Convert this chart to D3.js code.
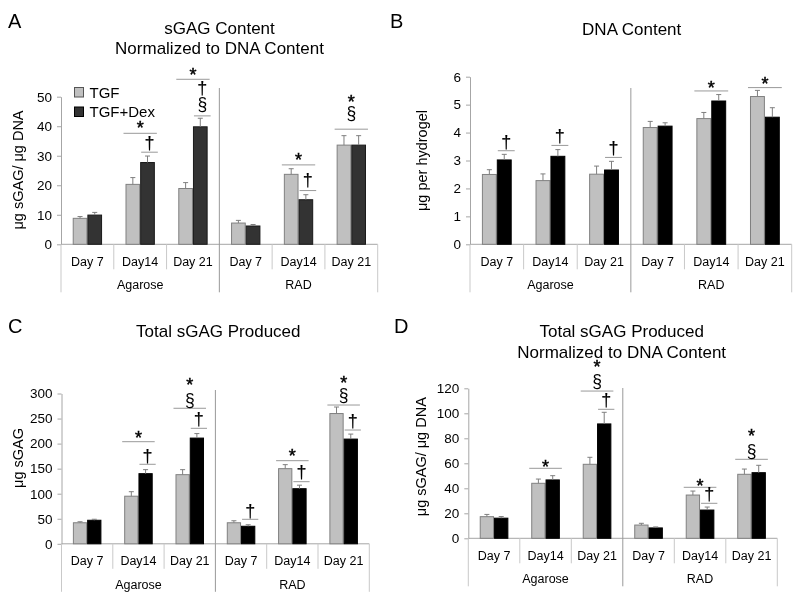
<!DOCTYPE html>
<html>
<head>
<meta charset="utf-8">
<script src="https://cdn.jsdelivr.net/npm/d3@7"></script>
<style>
  html, body { margin: 0; padding: 0; background: #fff; }
  svg { display: block; filter: grayscale(100%); }
</style>
</head>
<body>
<svg id="chart" width="800" height="604"></svg>
<script>
// ---------------- DATA ----------------
const categories = ["Day 7", "Day14", "Day 21", "Day 7", "Day14", "Day 21"];
const groups = ["Agarose", "RAD"];
const seriesNames = ["TGF", "TGF+Dex"];

// Panel A: sGAG content normalized to DNA (µg sGAG / µg DNA)
const ticksA = [0, 10, 20, 30, 40, 50];
const tgfA = [8.8, 20.3, 18.9, 7.2, 23.7, 33.6];
const dexA = [9.9, 27.7, 39.8, 6.2, 15.1, 33.6];
const tgfErrA = [0.6, 2.3, 2.0, 0.9, 1.9, 3.2];
const dexErrA = [0.9, 2.2, 2.9, 0.5, 1.7, 3.2];
const annA = [
  { cat: 1, span: "both", line: 37.6, marks: [["*", 41.0]] },
  { cat: 1, span: "dex",  line: 31.2, marks: [["†", 34.2]] },
  { cat: 2, span: "both", line: 55.9, marks: [["*", 58.9]] },
  { cat: 2, span: "dex",  line: 43.5, marks: [["†", 52.8], ["§", 47.0]] },
  { cat: 4, span: "both", line: 26.9, marks: [["*", 30.2]] },
  { cat: 4, span: "dex",  line: 18.2, marks: [["†", 21.4]] },
  { cat: 5, span: "both", line: 39.0, marks: [["*", 49.6], ["§", 44.0]] }
];

// Panel B: DNA content (µg per hydrogel)
const ticksB = [0, 1, 2, 3, 4, 5, 6];
const tgfB = [2.50, 2.28, 2.51, 4.18, 4.50, 5.29];
const dexB = [3.02, 3.15, 2.66, 4.23, 5.13, 4.55];
const tgfErrB = [0.17, 0.24, 0.29, 0.22, 0.22, 0.22];
const dexErrB = [0.20, 0.24, 0.31, 0.12, 0.23, 0.34];
const annB = [
  { cat: 0, span: "dex",  line: 3.35, marks: [["†", 3.64]] },
  { cat: 1, span: "dex",  line: 3.54, marks: [["†", 3.85]] },
  { cat: 2, span: "dex",  line: 3.11, marks: [["†", 3.41]] },
  { cat: 4, span: "both", line: 5.49, marks: [["*", 5.77]] },
  { cat: 5, span: "both", line: 5.61, marks: [["*", 5.89]] }
];

// Panel C: total sGAG produced (µg sGAG)
const ticksC = [0, 50, 100, 150, 200, 250, 300];
const tgfC = [42, 95, 138, 42, 150, 260];
const dexC = [47, 140, 211, 35, 110, 209];
const tgfErrC = [2, 9, 10, 4, 8, 13];
const dexErrC = [2, 8, 9, 3, 7, 10];
const annC = [
  { cat: 1, span: "both", line: 203.8, marks: [["*", 221.0]] },
  { cat: 1, span: "dex",  line: 158.7, marks: [["†", 174.5]] },
  { cat: 2, span: "both", line: 270.5, marks: [["*", 325.0], ["§", 284.5]] },
  { cat: 2, span: "dex",  line: 230.5, marks: [["†", 247.5]] },
  { cat: 3, span: "dex",  line: 48.9,  marks: [["†", 64.5]] },
  { cat: 4, span: "both", line: 165.9, marks: [["*", 184.0]] },
  { cat: 4, span: "dex",  line: 124.0, marks: [["†", 141.0]] },
  { cat: 5, span: "both", line: 277.0, marks: [["*", 330.0], ["§", 294.0]] },
  { cat: 5, span: "dex",  line: 227.1, marks: [["†", 244.0]] }
];

// Panel D: total sGAG produced normalized to DNA (µg sGAG / µg DNA)
const ticksD = [0, 20, 40, 60, 80, 100, 120];
const tgfD = [17.3, 44.0, 59.2, 10.6, 34.6, 51.2];
const dexD = [16.1, 46.7, 91.5, 8.3, 22.6, 52.5];
const tgfErrD = [1.8, 3.4, 5.6, 1.4, 3.2, 4.2];
const dexErrD = [1.3, 3.4, 9.3, 0.8, 2.4, 5.9];
const annD = [
  { cat: 1, span: "both", line: 56.0,  marks: [["*", 60.4]] },
  { cat: 2, span: "both", line: 117.8, marks: [["*", 140.8], ["§", 124.5]] },
  { cat: 2, span: "dex",  line: 103.2, marks: [["†", 109.8]] },
  { cat: 4, span: "both", line: 40.8,  marks: [["*", 45.5]] },
  { cat: 4, span: "dex",  line: 28.0,  marks: [["†", 34.8]] },
  { cat: 5, span: "both", line: 63.2,  marks: [["*", 85.3], ["§", 69.0]] }
];

// ---------------- LAYOUT / STYLE ----------------
const FONT = "'Liberation Sans', Arial, Helvetica, sans-serif";
const panels = [
  { letter: "A", tgf: tgfA, dex: dexA, tgfErr: tgfErrA, dexErr: dexErrA, ann: annA, ticks: ticksA,
    title: ["sGAG Content", "Normalized to DNA Content"], ylabel: "μg sGAG/ μg DNA",
    x0: 61, x1: 377.7, y0: 244.3, yTop: 96.7, sepTop: 88,
    titleX: 219.5, titleY: [34.3, 54.3], letterPos: [8, 27.5], ylabelPos: [23, 170],
    dexFill: "#333333", dexStroke: "#1a1a1a", legend: true },
  { letter: "B", tgf: tgfB, dex: dexB, tgfErr: tgfErrB, dexErr: dexErrB, ann: annB, ticks: ticksB,
    title: ["DNA Content"], ylabel: "μg per hydrogel",
    x0: 470, x1: 791.7, y0: 244.3, yTop: 76.7, sepTop: 88,
    titleX: 631.7, titleY: [35], letterPos: [390, 27.5], ylabelPos: [427, 160.5],
    dexFill: "#000000", dexStroke: "#000000", legend: false },
  { letter: "C", tgf: tgfC, dex: dexC, tgfErr: tgfErrC, dexErr: dexErrC, ann: annC, ticks: ticksC,
    title: ["Total sGAG Produced"], ylabel: "μg sGAG",
    x0: 61.5, x1: 369.3, y0: 543.8, yTop: 393.5, sepTop: 390,
    titleX: 218.3, titleY: [337], letterPos: [8, 333], ylabelPos: [22.5, 458],
    dexFill: "#000000", dexStroke: "#000000", legend: false },
  { letter: "D", tgf: tgfD, dex: dexD, tgfErr: tgfErrD, dexErr: dexErrD, ann: annD, ticks: ticksD,
    title: ["Total sGAG Produced", "Normalized to DNA Content"], ylabel: "μg sGAG/ μg DNA",
    x0: 468.3, x1: 777.3, y0: 538.3, yTop: 388.3, sepTop: 388,
    titleX: 621.7, titleY: [337, 358], letterPos: [394, 333], ylabelPos: [426, 456.7],
    dexFill: "#000000", dexStroke: "#000000", legend: false }
];

const TGF_FILL = "#c0c0c0", TGF_STROKE = "#808080";
const AXIS_COLOR = "#a6a6a6", SEP_LIGHT = "#c9c9c9", ERR_COLOR = "#7f7f7f", SIG_LINE = "#999999";
// symbol font size and ink-centre offset (em) so that the glyph ink is centred on its level
const symStyle = {
  "*": { fs: 18, off: 0.58, stroke: 0.5 },
  "†": { fs: 18, off: 0.29, stroke: 0.15 },
  "§": { fs: 17.5, off: 0.27, stroke: 0 }
};

const svg = d3.select("#chart");

panels.forEach(p => {
  const g = svg.append("g");
  const maxV = p.ticks[p.ticks.length - 1];
  const y = d3.scaleLinear().domain([0, maxV]).range([p.y0, p.yTop]);
  const x = d3.scaleBand().domain(d3.range(categories.length)).range([p.x0, p.x1]).padding(0);
  const bw = x.bandwidth() * 0.278;
  const cx = i => x(i) + x.bandwidth() / 2;

  // panel letter
  g.append("text").attr("x", p.letterPos[0]).attr("y", p.letterPos[1])
    .attr("font-family", FONT).attr("font-size", 20).attr("fill", "#000").text(p.letter);

  // title
  p.title.forEach((t, k) => {
    g.append("text").attr("x", p.titleX).attr("y", p.titleY[k]).attr("text-anchor", "middle")
      .attr("font-family", FONT).attr("font-size", 17).attr("fill", "#000").text(t);
  });

  // y axis label
  g.append("text")
    .attr("transform", `translate(${p.ylabelPos[0]},${p.ylabelPos[1]}) rotate(-90)`)
    .attr("text-anchor", "middle").attr("font-family", FONT).attr("font-size", 14.5)
    .attr("fill", "#000").text(p.ylabel);

  // y axis
  const yAxis = d3.axisLeft(y).tickValues(p.ticks).tickSize(4).tickSizeOuter(0).tickPadding(5)
    .tickFormat(d3.format("d"));
  const ga = g.append("g").attr("transform", `translate(${p.x0},0)`).call(yAxis);
  ga.select(".domain").attr("stroke", AXIS_COLOR);
  ga.selectAll(".tick line").attr("stroke", AXIS_COLOR);
  ga.selectAll(".tick text").attr("font-family", FONT).attr("font-size", 13.5).attr("fill", "#000");

  // x axis baseline
  g.append("line").attr("x1", p.x0).attr("x2", p.x1).attr("y1", p.y0).attr("y2", p.y0)
    .attr("stroke", AXIS_COLOR);

  // category separators
  const bounds = d3.range(categories.length + 1).map(i => i < categories.length ? x(i) : p.x1);
  bounds.forEach((bx, i) => {
    const isGroupEdge = (i === 0 || i === 3 || i === 6);
    if (i === 3) return;
    g.append("line").attr("x1", bx).attr("x2", bx).attr("y1", p.y0)
      .attr("y2", p.y0 + (isGroupEdge ? 48 : 25)).attr("stroke", SEP_LIGHT);
  });
  // middle group separator
  g.append("line").attr("x1", bounds[3]).attr("x2", bounds[3]).attr("y1", p.sepTop)
    .attr("y2", p.y0 + 48).attr("stroke", "#999999");

  // category labels
  categories.forEach((c, i) => {
    g.append("text").attr("x", cx(i)).attr("y", p.y0 + 21.5).attr("text-anchor", "middle")
      .attr("font-family", FONT).attr("font-size", 12.5).attr("fill", "#000").text(c);
  });
  groups.forEach((gn, k) => {
    const gx = (bounds[k * 3] + bounds[k * 3 + 3]) / 2;
    g.append("text").attr("x", gx).attr("y", p.y0 + 45).attr("text-anchor", "middle")
      .attr("font-family", FONT).attr("font-size", 12.5).attr("fill", "#000").text(gn);
  });

  // bars
  const seriesDefs = [
    { vals: p.tgf, errs: p.tgfErr, off: -bw, fill: TGF_FILL, stroke: TGF_STROKE },
    { vals: p.dex, errs: p.dexErr, off: 0, fill: p.dexFill, stroke: p.dexStroke }
  ];
  seriesDefs.forEach(s => {
    g.selectAll(null).data(s.vals).enter().append("rect")
      .attr("x", (d, i) => cx(i) + s.off + 0.5)
      .attr("y", d => y(d))
      .attr("width", bw - 1)
      .attr("height", d => p.y0 - y(d))
      .attr("fill", s.fill).attr("stroke", s.stroke).attr("stroke-width", 1);
    // error bars (upper only)
    s.vals.forEach((v, i) => {
      const ex = cx(i) + s.off + bw / 2;
      g.append("line").attr("x1", ex).attr("x2", ex).attr("y1", y(v)).attr("y2", y(v + s.errs[i]))
        .attr("stroke", ERR_COLOR);
      g.append("line").attr("x1", ex - 2.5).attr("x2", ex + 2.5)
        .attr("y1", y(v + s.errs[i])).attr("y2", y(v + s.errs[i])).attr("stroke", ERR_COLOR);
    });
  });

  // significance annotations
  const ag = g.append("g");
  p.ann.forEach(a => {
    let lx1, lx2;
    if (a.span === "both") { lx1 = cx(a.cat) - bw - 2; lx2 = cx(a.cat) + bw + 2; }
    else { lx1 = cx(a.cat) + 1; lx2 = cx(a.cat) + bw + 3; }
    ag.append("line").attr("x1", lx1).attr("x2", lx2).attr("y1", y(a.line)).attr("y2", y(a.line))
      .attr("stroke", SIG_LINE);
    const mx = (lx1 + lx2) / 2;
    a.marks.forEach(([sym, lvl]) => {
      const st = symStyle[sym];
      ag.append("text").attr("x", mx).attr("y", y(lvl) + st.off * st.fs)
        .attr("text-anchor", "middle").attr("font-family", FONT).attr("font-size", st.fs)
        .attr("fill", "#000").attr("stroke", st.stroke ? "#000" : "none")
        .attr("stroke-width", st.stroke).text(sym);
    });
  });

  // legend
  if (p.legend) {
    const legendItems = [
      { name: seriesNames[0], fill: TGF_FILL, stroke: "#555" },
      { name: seriesNames[1], fill: p.dexFill, stroke: "#000" }
    ];
    legendItems.forEach((it, k) => {
      const ly = 87.5 + k * 19.5;
      g.append("rect").attr("x", 74.5).attr("y", ly).attr("width", 9).attr("height", 9.5)
        .attr("fill", it.fill).attr("stroke", it.stroke);
      g.append("text").attr("x", 89.5).attr("y", ly + 10).attr("font-family", FONT)
        .attr("font-size", 15).attr("fill", "#000").text(it.name);
    });
  }
});
</script>
</body>
</html>
